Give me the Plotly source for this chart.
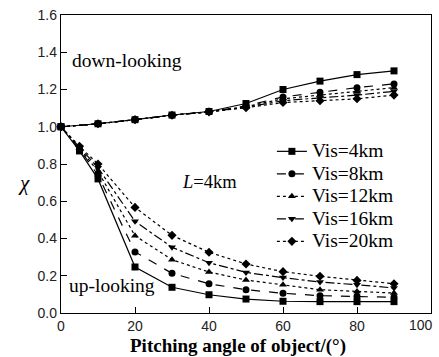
import plotly.graph_objects as go

angles = [0, 5, 10, 20, 30, 40, 50, 60, 70, 80, 90]
angles_down = [0, 10, 20, 30, 40, 50, 60, 70, 80, 90]
vis_labels = ["Vis=4km", "Vis=8km", "Vis=12km", "Vis=16km", "Vis=20km"]
x_ticks = [0, 20, 40, 60, 80, 100]
y_ticks = [0, 0.2, 0.4, 0.6, 0.8, 1.0, 1.2, 1.4, 1.6]

up_4 = [1.0, 0.87, 0.72, 0.247, 0.138, 0.098, 0.075, 0.063, 0.061, 0.061, 0.061]
up_8 = [1.0, 0.88, 0.74, 0.328, 0.213, 0.157, 0.125, 0.106, 0.093, 0.090, 0.084]
up_12 = [1.0, 0.885, 0.76, 0.415, 0.286, 0.220, 0.177, 0.152, 0.125, 0.116, 0.107]
up_16 = [1.0, 0.89, 0.78, 0.492, 0.353, 0.270, 0.218, 0.190, 0.166, 0.152, 0.134]
up_20 = [1.0, 0.895, 0.80, 0.567, 0.417, 0.326, 0.263, 0.222, 0.197, 0.175, 0.157]

down_4 = [1.0, 1.016, 1.038, 1.063, 1.082, 1.125, 1.20, 1.245, 1.28, 1.30]
down_8 = [1.0, 1.016, 1.038, 1.062, 1.080, 1.112, 1.16, 1.185, 1.21, 1.23]
down_12 = [1.0, 1.016, 1.038, 1.062, 1.080, 1.108, 1.15, 1.17, 1.19, 1.21]
down_16 = [1.0, 1.016, 1.038, 1.062, 1.080, 1.105, 1.14, 1.155, 1.17, 1.19]
down_20 = [1.0, 1.016, 1.038, 1.062, 1.080, 1.102, 1.13, 1.14, 1.15, 1.17]

ups = [up_4, up_8, up_12, up_16, up_20]
downs = [down_4, down_8, down_12, down_16, down_20]
symbols = ["square", "circle", "triangle-up", "triangle-down", "diamond"]
dashes = ["solid", "dash", "dot", "dashdot", "dot"]

serif = "Liberation Serif, Times New Roman, serif"
sans = "Liberation Sans, Arial, sans-serif"

fig = go.Figure()
for i in range(5):
    fig.add_trace(go.Scatter(
        x=angles, y=ups[i], mode="lines+markers",
        name='<span style="font-size:19.5px">' + vis_labels[i] + '</span>',
        line=dict(color="black", width=1.2, dash=dashes[i]),
        marker=dict(symbol=symbols[i], size=7, color="black"),
        cliponaxis=False, legendgroup=str(i)))
    fig.add_trace(go.Scatter(
        x=angles_down, y=downs[i], mode="lines+markers", name=vis_labels[i],
        line=dict(color="black", width=1.2, dash=dashes[i]),
        marker=dict(symbol=symbols[i], size=7, color="black"),
        cliponaxis=False, showlegend=False, legendgroup=str(i)))

fig.add_annotation(x=2.4, y=1.358, xref="x", yref="y", text="down-looking",
                   showarrow=False, xanchor="left", yanchor="middle",
                   font=dict(family=serif, size=19.5, color="black"))
fig.add_annotation(x=1.5, y=0.145, xref="x", yref="y", text="up-looking",
                   showarrow=False, xanchor="left", yanchor="middle",
                   font=dict(family=serif, size=19.5, color="black"))
fig.add_annotation(x=40.0, y=0.705, xref="x", yref="y", text="<i>L</i>=4km",
                   showarrow=False, xanchor="center", yanchor="middle",
                   font=dict(family=serif, size=18.5, color="black"))
# y-axis title
fig.add_annotation(x=-(61 - 24) / 370, y=0.7, xref="paper", yref="y",
                   text="<i>χ</i>", showarrow=False,
                   xanchor="center", yanchor="middle",
                   font=dict(family=serif, size=21, color="black"))
# x-axis title (shifted slightly left as in the reference)
fig.add_annotation(x=(238 - 61) / 370, y=-0.11, xref="paper", yref="paper",
                   text="<b>Pitching angle of object/(°)</b>",
                   showarrow=False, xanchor="center", yanchor="middle",
                   font=dict(family=serif, size=19, color="black"))
# last x tick label, kept inside the page
fig.add_annotation(x=97.2, y=-0.04, xref="x", yref="paper", text=str(x_ticks[-1]),
                   showarrow=False, xanchor="center", yanchor="middle",
                   font=dict(family=sans, size=14, color="#222"))

fig.update_layout(
    width=439, height=357,
    margin=dict(l=61, r=8, t=15, b=44),
    plot_bgcolor="white", paper_bgcolor="white",
    showlegend=True,
    legend=dict(x=0.57, y=0.597, xanchor="left", yanchor="top",
                bgcolor="rgba(0,0,0,0)", font=dict(family=serif, size=15, color="black"),
                tracegroupgap=0, itemwidth=30),
    xaxis=dict(range=[0, 100], tickvals=x_ticks,
               ticktext=[str(v) for v in x_ticks[:-1]] + [""],
               ticks="inside", ticklen=6, tickcolor="black",
               showline=True, linecolor="black", linewidth=1.3, mirror=True,
               showgrid=False, zeroline=False,
               tickfont=dict(family=sans, size=14, color="#222")),
    yaxis=dict(range=[0, 1.6], tickvals=y_ticks,
               tickformat=".1f",
               ticks="inside", ticklen=6, tickcolor="black",
               showline=True, linecolor="black", linewidth=1.3, mirror=True,
               showgrid=False, zeroline=False,
               tickfont=dict(family=sans, size=14, color="#222")),
)

fig.write_html("out.html")
